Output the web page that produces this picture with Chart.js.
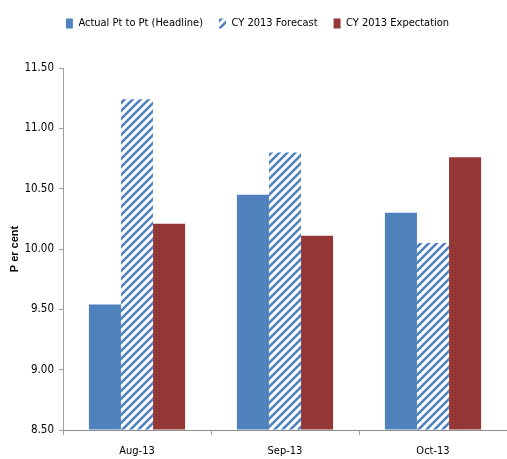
<!DOCTYPE html>
<html>
<head>
<meta charset="utf-8">
<script src="https://cdn.jsdelivr.net/npm/chart.js@4"></script>
<style>
  html, body { margin: 0; padding: 0; background: #fff; overflow: hidden; }
  #wrap { width: 507px; height: 459px; }
</style>
</head>
<body>
<div id="wrap"><canvas id="cpi_chart" width="507" height="459"></canvas></div>
<script>
// chart data
const months = ['Aug-13', 'Sep-13', 'Oct-13'];
const actualHeadline = [9.54, 10.45, 10.30];
const forecast2013 = [11.24, 10.80, 10.05];
const expectation2013 = [10.21, 10.11, 10.76];
const yTicks = [8.5, 9.0, 9.5, 10.0, 10.5, 11.0, 11.5];

const FONT = "'DejaVu Sans Condensed', 'Liberation Sans Narrow', 'Liberation Sans', sans-serif";

// diagonal hatch for the forecast bars
function makeHatch() {
    const c = document.createElement('canvas');
    c.width = 8; c.height = 8;
    const g = c.getContext('2d');
    g.fillStyle = '#ffffff';
    g.fillRect(0, 0, 8, 8);
    g.strokeStyle = '#4f81bd';
    g.lineWidth = 2.6;
    g.beginPath();
    g.moveTo(-2, 10); g.lineTo(10, -2);
    g.moveTo(-6, 6); g.lineTo(6, -6);
    g.moveTo(2, 14); g.lineTo(14, 2);
    g.stroke();
    return g.createPattern(c, 'repeat');
}

const hatch = makeHatch();

// push the plot down, away from the legend
const legendGap = {
    id: 'legendGap',
    beforeInit(chart) {
        const fit = chart.legend.fit;
        chart.legend.fit = function () {
            fit.bind(chart.legend)();
            this.height += 29;
        };
    }
};

const ctx = document.getElementById('cpi_chart').getContext('2d');

new Chart(ctx, {
    type: 'bar',
    data: {
        labels: months,
        datasets: [
            { label: 'Actual Pt to Pt (Headline)', data: actualHeadline, backgroundColor: '#4f81bd' },
            { label: 'CY 2013 Forecast', data: forecast2013, backgroundColor: hatch },
            { label: 'CY 2013 Expectation', data: expectation2013, backgroundColor: '#953735' }
        ]
    },
    options: {
        responsive: false,
        animation: false,
        layout: { padding: { top: 2, right: 0, bottom: 0, left: 8 } },
        datasets: {
            bar: { categoryPercentage: 0.65, barPercentage: 1.0, base: 8.5 }
        },
        scales: {
            x: {
                afterFit: (axis) => { axis.height = 29; },
                grid: {
                    display: true,
                    drawOnChartArea: false,
                    drawTicks: true,
                    tickLength: 5,
                    offset: true,
                    color: '#a0a0a0'
                },
                border: { display: true, color: '#8c8c8c', width: 1 },
                ticks: { color: '#000', font: { family: FONT, size: 11 }, padding: 10 }
            },
            y: {
                min: 8.5,
                max: 11.5,
                afterBuildTicks: (axis) => { axis.ticks = yTicks.map(v => ({ value: v })); },
                afterFit: (axis) => { axis.width = 55; },
                grid: {
                    display: true,
                    drawOnChartArea: false,
                    drawTicks: true,
                    tickLength: 4,
                    color: '#a0a0a0'
                },
                border: { display: true, color: '#a0a0a0', dash: [3, 2] },
                ticks: {
                    color: '#000',
                    font: { family: FONT, size: 11.5 },
                    padding: 5,
                    callback: (v) => Number(v).toFixed(2)
                },
                title: {
                    display: true,
                    text: 'P er cent',
                    color: '#000',
                    font: { family: "'Liberation Sans', Arial, sans-serif", size: 11, weight: 'bold' },
                    padding: { top: 0, bottom: 2 }
                }
            }
        },
        plugins: {
            legend: {
                position: 'top',
                labels: {
                    color: '#000',
                    font: { family: FONT, size: 11 },
                    boxWidth: 7,
                    boxHeight: 10,
                    padding: 16
                }
            },
            tooltip: { enabled: false }
        }
    },
    plugins: [legendGap]
});
</script>
</body>
</html>
